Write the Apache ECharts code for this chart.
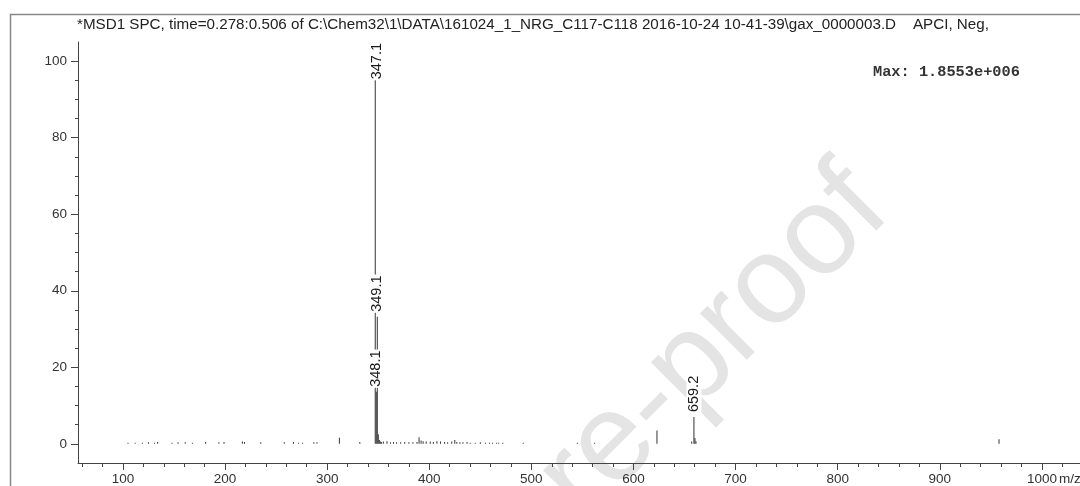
<!DOCTYPE html>
<html>
<head>
<meta charset="utf-8">
<script src="https://cdn.jsdelivr.net/npm/echarts@6/dist/echarts.min.js"></script>
<style>
html,body{margin:0;padding:0;background:#fff;}
#c{width:1080px;height:486px;}
</style>
</head>
<body>
<div id="c"></div>
<script>
// ---- data ----
const titleText = '*MSD1 SPC, time=0.278:0.506 of C:\\Chem32\\1\\DATA\\161024_1_NRG_C117-C118 2016-10-24 10-41-39\\gax_0000003.D    APCI, Neg,';
const maxText = 'Max: 1.8553e+006';
const mzValues = [105,112,119,125,131,134,148,154,161,168,181,194,199,217,219,235,258,267,272,276,287,290,
  312,332,347.1,348.1,349.1,350.1,351.1,352.1,353.1,355,358.6,362,365,368,372,376,380,384,388,390,392,394,397,401,404,407.5,411,415,418,422,425,427,430,433,437,440,445,450,455,459,462,466,468,472,492,545,562,
  623,657,659.2,660.2,661.2,958];
const intensities = [0.3,0.3,0.3,0.4,0.3,0.5,0.3,0.4,0.4,0.3,0.5,0.4,0.5,0.6,0.5,0.4,0.4,0.5,0.3,0.3,0.4,0.4,
  1.6,0.5,100,13.6,33.2,2.5,1.0,0.6,0.5,0.6,0.7,0.4,0.5,0.4,0.4,0.5,0.4,0.4,0.5,1.7,0.9,0.7,0.6,0.6,0.5,0.7,0.6,0.5,0.4,0.6,1.0,0.5,0.4,0.4,0.5,0.3,0.3,0.4,0.3,0.3,0.3,0.3,0.3,0.3,0.3,0.3,0.3,
  3.5,0.6,7,1.5,0.7,1.2];
const peakLabels = ['347.1','348.1','349.1','659.2'];
const xTickLabels = [100,200,300,400,500,600,700,800,900,1000];
const xMinorTicks = [60,80,120,140,160,180,220,240,260,280,320,340,360,380,420,440,460,480,520,540,560,580,620,640,660,680,720,740,760,780,820,840,860,880,920,940,960,980,1020];
const yTickLabels = [0,20,40,60,80,100];
const yMinorTicks = [5,10,15,25,30,35,45,50,55,65,70,75,85,90,95];
const watermarkText = 're-proof';
const xUnit = 'm/z';

// ---- chart ----
const chart = echarts.init(document.getElementById('c'), null, {renderer:'canvas'});
const FONT = 'Liberation Sans, Arial, sans-serif';
const labelBase = {
  show: true, rotate: 90, fontFamily: FONT, fontSize: 14.5, color: '#1a1a1a',
  backgroundColor: '#fff', padding: [0, 1]
};
const seriesData = mzValues.map((m, i) => {
  const item = { value: [m, intensities[i]] };
  const txt = m.toFixed(1);
  if (peakLabels.indexOf(txt) >= 0) {
    if (intensities[i] >= 99) {
      item.label = Object.assign({}, labelBase, { position: ['50%', 0], align: 'center', verticalAlign: 'middle', offset: [0, 2], formatter: txt });
    } else {
      item.label = Object.assign({}, labelBase, { position: 'top', distance: 4, align: 'left', verticalAlign: 'middle', formatter: txt });
    }
  }
  return item;
});

const xMin = 56, xMax = 1037.3, yMin = -5, yMax = 105;
const axisColor = '#444';

chart.setOption({
  animation: false,
  backgroundColor: '#fff',
  grid: { left: 78, right: 0, top: 42, bottom: 23, containLabel: false },
  xAxis: [{
    type: 'value', min: xMin, max: xMax, position: 'bottom',
    axisLine: { show: true, onZero: false, lineStyle: { color: axisColor, width: 1 } },
    axisTick: { show: true, customValues: xTickLabels, length: 7, lineStyle: { color: axisColor } },
    axisLabel: { show: true, customValues: xTickLabels, formatter: v => String(v), fontFamily: FONT, fontSize: 13.5, color: '#333', margin: 9 },
    splitLine: { show: false }
  }, {
    type: 'value', min: xMin, max: xMax, position: 'bottom', gridIndex: 0,
    axisLine: { show: false, onZero: false },
    axisTick: { show: true, customValues: xMinorTicks, length: 4, lineStyle: { color: axisColor } },
    axisLabel: { show: false },
    splitLine: { show: false }
  }],
  yAxis: [{
    type: 'value', min: yMin, max: yMax, position: 'left',
    axisLine: { show: true, onZero: false, lineStyle: { color: axisColor, width: 1 } },
    axisTick: { show: true, customValues: yTickLabels, length: 7, lineStyle: { color: axisColor } },
    axisLabel: { show: true, customValues: yTickLabels, formatter: v => String(v), fontFamily: FONT, fontSize: 13.5, color: '#333', margin: 11 },
    splitLine: { show: false }
  }, {
    type: 'value', min: yMin, max: yMax, position: 'left', gridIndex: 0,
    axisLine: { show: false, onZero: false },
    axisTick: { show: true, customValues: yMinorTicks, length: 3, lineStyle: { color: axisColor } },
    axisLabel: { show: false },
    splitLine: { show: false }
  }],
  graphic: [
    { type: 'text', z: -10, x: 714, y: 344, rotation: Math.PI / 4,
      style: { text: watermarkText, fill: '#e4e4e4', font: '125px ' + FONT, textAlign: 'center', textVerticalAlign: 'middle' } },
    { type: 'polyline', z: 10, shape: { points: [[10.5, 486], [10.5, 14.5], [1080, 14.5]] },
      style: { stroke: '#888', lineWidth: 1.5, fill: null } },
    { type: 'text', z: 10, x: 77, y: 25,
      style: { text: titleText, fill: '#222', font: '15.2px ' + FONT, textVerticalAlign: 'middle' } },
    { type: 'text', z: 10, x: 873, y: 72,
      style: { text: maxText, fill: '#333', font: 'bold 15.3px Liberation Mono, DejaVu Sans Mono, monospace', textVerticalAlign: 'middle' } },
    { type: 'text', z: 10, x: 1059, y: 479,
      style: { text: xUnit, fill: '#333', font: '13.5px ' + FONT, textVerticalAlign: 'middle' } }
  ],
  series: [{
    type: 'bar', xAxisIndex: 0, yAxisIndex: 0,
    barWidth: 1, barMinHeight: 0,
    itemStyle: { color: '#333' },
    data: seriesData,
    z: 5
  }]
});
</script>
</body>
</html>
